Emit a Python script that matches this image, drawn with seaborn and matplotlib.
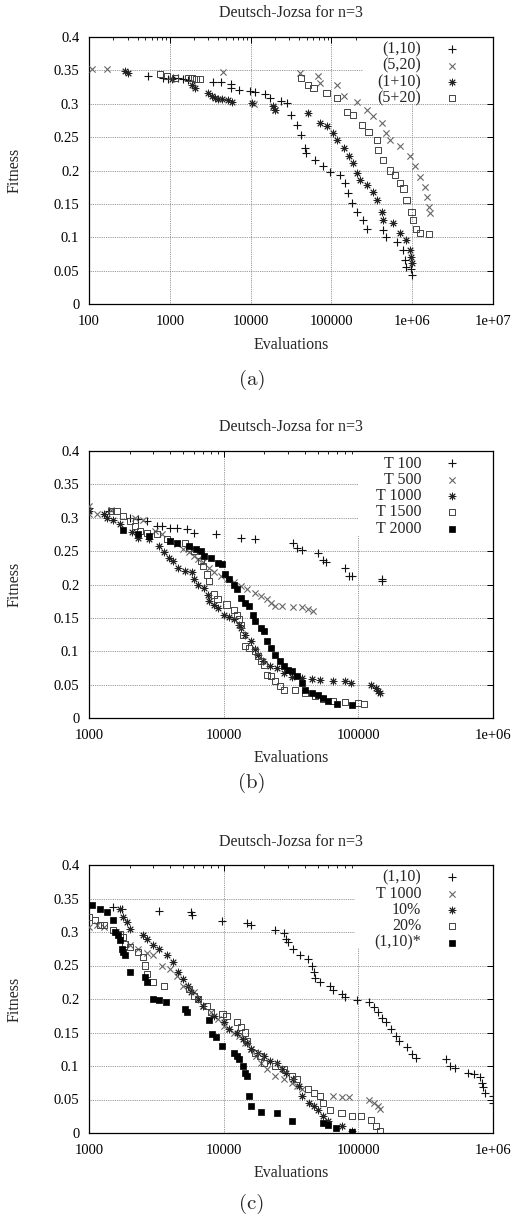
import matplotlib
matplotlib.use("Agg")
import matplotlib.pyplot as plt
import seaborn as sns
from matplotlib.patches import Rectangle
from matplotlib.ticker import FixedLocator, FixedFormatter, LogLocator, NullFormatter

# ---- panel (a): ES strategies ----
a_plus_x = [540, 830, 950, 1100, 1260, 1450, 1700, 3400, 4300, 5700, 5800, 7200, 9800, 11300, 15000,
            17400, 24000, 28000, 32000, 37000, 42600, 47000, 49000, 63000, 79000, 96000, 127000,
            147000, 162000, 178000, 205000, 246000, 273000, 437000, 480000, 640000, 780000, 815000,
            850000, 980000, 1000000]
a_plus_y = [0.342, 0.338, 0.337, 0.338, 0.338, 0.337, 0.336, 0.333, 0.333, 0.330, 0.323, 0.320, 0.319,
            0.318, 0.314, 0.309, 0.304, 0.301, 0.283, 0.268, 0.253, 0.233, 0.226, 0.216, 0.206, 0.198,
            0.193, 0.181, 0.166, 0.151, 0.138, 0.126, 0.113, 0.111, 0.101, 0.093, 0.081, 0.066, 0.056,
            0.053, 0.043]

a_cross_x = [108, 165, 4570, 11000, 19000, 20000, 41000, 69000, 72000, 117000, 142000, 205000, 273000,
             330000, 418000, 480000, 530000, 710000, 935000, 1070000, 1250000, 1450000, 1520000,
             1600000, 1660000]
a_cross_y = [0.352, 0.352, 0.348, 0.299, 0.295, 0.290, 0.346, 0.341, 0.331, 0.328, 0.311, 0.303, 0.291,
             0.281, 0.271, 0.256, 0.246, 0.236, 0.221, 0.206, 0.191, 0.176, 0.161, 0.146, 0.136]

a_star_x = [280, 300, 1050, 1860, 2050, 2950, 3300, 3600, 3950, 4450, 5200, 5900, 10500, 19000, 20000,
            52000, 72000, 87000, 106000, 117000, 142000, 163000, 185000, 205000, 225000, 273000,
            330000, 363000, 418000, 437000, 580000, 710000, 850000, 935000, 980000, 1000000]
a_star_y = [0.349, 0.346, 0.337, 0.328, 0.324, 0.316, 0.312, 0.309, 0.307, 0.307, 0.305, 0.302, 0.301,
            0.296, 0.291, 0.286, 0.271, 0.266, 0.256, 0.246, 0.233, 0.221, 0.211, 0.196, 0.186, 0.178,
            0.168, 0.156, 0.138, 0.126, 0.121, 0.106, 0.096, 0.081, 0.071, 0.061]

a_sq_x = [760, 930, 1150, 1700, 1900, 2100, 2350, 42600, 52000, 60000, 87000, 117000, 155000, 187000,
          237000, 288000, 363000, 380000, 437000, 530000, 615000, 710000, 780000, 850000, 980000,
          1020000, 1120000, 1250000, 1600000]
a_sq_y = [0.345, 0.341, 0.338, 0.338, 0.338, 0.337, 0.337, 0.338, 0.328, 0.323, 0.316, 0.308, 0.288,
          0.283, 0.268, 0.258, 0.246, 0.231, 0.216, 0.200, 0.193, 0.181, 0.173, 0.156, 0.138, 0.126,
          0.113, 0.106, 0.105]

# ---- panel (b): tournament sizes ----
b_t100_x = [1000, 1400, 2000, 2300, 2700, 3200, 3500, 4000, 4500, 5300, 6000, 8800, 13500, 17000,
            33000, 35000, 38000, 50000, 55000, 58000, 80000, 85000, 90000, 150000, 150000]
b_t100_y = [0.315, 0.310, 0.300, 0.298, 0.295, 0.288, 0.287, 0.285, 0.285, 0.283, 0.277, 0.275, 0.270,
            0.268, 0.262, 0.255, 0.252, 0.247, 0.237, 0.233, 0.225, 0.213, 0.212, 0.208, 0.205]

b_t500_x = [1000, 1000, 1150, 1450, 2200, 2500, 3100, 3500, 4000, 4500, 5000, 5500, 6000, 6500, 7000,
            7800, 8500, 9500, 10500, 12000, 13500, 15000, 17000, 19000, 21000, 22500, 24000, 27000,
            33000, 38000, 42000, 46000]
b_t500_y = [0.318, 0.305, 0.305, 0.312, 0.300, 0.297, 0.280, 0.275, 0.265, 0.260, 0.253, 0.248, 0.243,
            0.238, 0.233, 0.225, 0.218, 0.212, 0.208, 0.203, 0.198, 0.193, 0.188, 0.183, 0.178, 0.172,
            0.168, 0.168, 0.167, 0.166, 0.163, 0.160]

b_t1000_x = [1000, 1300, 1350, 1500, 1700, 2100, 2300, 2800, 3300, 3600, 3900, 4200, 4600, 5200, 5800,
             6000, 6500, 7200, 7600, 7800, 8500, 9000, 10000, 11000, 12000, 13000, 13500, 14500,
             16000, 17000, 18000, 19500, 22000, 25000, 28000, 32000, 38000, 45000, 52000, 65000,
             80000, 88000, 125000, 135000, 140000, 145000]
b_t1000_y = [0.310, 0.305, 0.300, 0.297, 0.290, 0.278, 0.270, 0.268, 0.258, 0.248, 0.240, 0.235, 0.225,
             0.220, 0.218, 0.208, 0.200, 0.195, 0.185, 0.175, 0.170, 0.165, 0.155, 0.152, 0.148, 0.140,
             0.135, 0.125, 0.115, 0.103, 0.095, 0.085, 0.078, 0.075, 0.068, 0.062, 0.060, 0.058, 0.057,
             0.055, 0.055, 0.052, 0.050, 0.045, 0.040, 0.037]

b_t1500_x = [1450, 1600, 1800, 2000, 2200, 2400, 2700, 3200, 3800, 5200, 5500, 6000, 6800, 7000, 7500,
             7800, 8500, 9000, 10500, 12000, 12500, 13000, 13500, 14000, 14500, 15500, 17000, 18000,
             19000, 20000, 21000, 22500, 24000, 26000, 28000, 34000, 40000, 48000, 55000, 65000,
             80000, 100000, 110000]
b_t1500_y = [0.310, 0.310, 0.302, 0.295, 0.288, 0.280, 0.277, 0.275, 0.268, 0.262, 0.255, 0.250, 0.235,
             0.228, 0.215, 0.205, 0.185, 0.178, 0.170, 0.162, 0.155, 0.148, 0.140, 0.125, 0.108, 0.105,
             0.100, 0.093, 0.085, 0.080, 0.065, 0.063, 0.055, 0.048, 0.042, 0.042, 0.038, 0.033, 0.028,
             0.025, 0.024, 0.023, 0.021]

b_t2000_x = [1800, 2300, 2800, 4000, 4500, 5500, 6200, 6800, 7200, 8000, 9000, 9800, 10200, 11000,
             12000, 12500, 13500, 14500, 15500, 16500, 17000, 19000, 20000, 21000, 22500, 24000, 26000,
             28000, 30000, 32000, 35000, 38000, 40000, 45000, 50000, 55000, 60000, 70000, 90000]
b_t2000_y = [0.282, 0.276, 0.272, 0.265, 0.262, 0.258, 0.253, 0.250, 0.243, 0.240, 0.232, 0.230, 0.215,
             0.208, 0.200, 0.193, 0.180, 0.172, 0.168, 0.155, 0.145, 0.135, 0.130, 0.115, 0.105, 0.095,
             0.085, 0.078, 0.072, 0.070, 0.063, 0.052, 0.042, 0.038, 0.035, 0.030, 0.025, 0.021, 0.019]

# ---- panel (c): comparison ----
c_es_x = [1500, 1750, 3300, 5700, 5800, 9800, 15000, 16000, 24000, 28000, 29000, 30000, 33000, 37000,
          42000, 45000, 47000, 48000, 52000, 62000, 65000, 75000, 80000, 98000, 120000, 130000, 140000,
          150000, 160000, 175000, 190000, 200000, 230000, 250000, 270000, 450000, 480000, 520000,
          650000, 720000, 800000, 830000, 850000, 870000, 1000000, 1000000]
c_es_y = [0.337, 0.335, 0.332, 0.330, 0.325, 0.317, 0.313, 0.310, 0.303, 0.298, 0.290, 0.285, 0.275,
          0.265, 0.260, 0.250, 0.240, 0.232, 0.225, 0.220, 0.213, 0.207, 0.203, 0.198, 0.195, 0.188,
          0.180, 0.172, 0.165, 0.155, 0.145, 0.138, 0.128, 0.118, 0.112, 0.110, 0.100, 0.097, 0.090,
          0.088, 0.083, 0.075, 0.068, 0.060, 0.055, 0.045]

c_t1000_x = [1000, 1150, 1300, 1600, 2000, 2300, 2700, 3000, 3500, 4000, 4500, 5000, 5500, 6000, 6500,
             7000, 8000, 9000, 10000, 11000, 12000, 13000, 14500, 16000, 17500, 19000, 21000, 24000,
             28000, 32000, 35000, 38000, 65000, 75000, 85000, 120000, 130000, 140000, 145000]
c_t1000_y = [0.307, 0.310, 0.307, 0.300, 0.280, 0.275, 0.268, 0.265, 0.250, 0.245, 0.235, 0.220, 0.215,
             0.210, 0.200, 0.190, 0.180, 0.170, 0.160, 0.155, 0.150, 0.145, 0.135, 0.125, 0.115, 0.105,
             0.095, 0.085, 0.080, 0.075, 0.070, 0.065, 0.055, 0.054, 0.053, 0.050, 0.045, 0.040, 0.036]

c_p10_x = [1700, 1800, 1900, 2000, 2500, 2700, 3000, 3300, 3800, 4200, 4600, 5000, 5400, 5700, 6500,
           7000, 8500, 10000, 11000, 12500, 14000, 15000, 16000, 18000, 20000, 22000, 25000, 27000,
           29000, 33000, 36000, 38000, 43000, 47000, 50000, 55000, 60000, 75000, 90000]
c_p10_y = [0.335, 0.322, 0.315, 0.305, 0.295, 0.290, 0.280, 0.275, 0.265, 0.255, 0.240, 0.230, 0.220,
           0.210, 0.200, 0.190, 0.175, 0.165, 0.155, 0.150, 0.140, 0.135, 0.125, 0.120, 0.115, 0.108,
           0.105, 0.095, 0.090, 0.080, 0.070, 0.055, 0.045, 0.040, 0.035, 0.025, 0.018, 0.010, 0.003]

c_p20_x = [1000, 1100, 1200, 1300, 1500, 1700, 1800, 1850, 2000, 2300, 2500, 2600, 2700, 3000, 3600,
           5500, 6000, 6500, 7500, 8000, 9800, 10500, 12500, 13500, 14500, 15000, 17000, 18500, 20000,
           24000, 28000, 32000, 35000, 42000, 47000, 52000, 55000, 62000, 75000, 90000, 105000,
           125000, 135000, 145000]
c_p20_y = [0.322, 0.318, 0.310, 0.310, 0.303, 0.297, 0.292, 0.282, 0.278, 0.270, 0.262, 0.250, 0.238,
           0.225, 0.220, 0.215, 0.205, 0.200, 0.190, 0.180, 0.178, 0.175, 0.165, 0.158, 0.150, 0.137,
           0.120, 0.115, 0.105, 0.100, 0.095, 0.085, 0.080, 0.065, 0.060, 0.055, 0.045, 0.035, 0.030,
           0.025, 0.025, 0.020, 0.010, 0.003]

c_star_x = [1050, 1200, 1350, 1500, 1550, 1650, 1700, 1750, 1800, 1850, 2000, 2600, 2700, 3000, 3300,
            3700, 5200, 5300, 7800, 8200, 8800, 9800, 12000, 12500, 13000, 14000, 14500, 15000, 15500,
            16000, 19000, 25000, 32000, 55000, 60000, 68000, 90000]
c_star_y = [0.340, 0.335, 0.330, 0.318, 0.300, 0.295, 0.288, 0.275, 0.270, 0.265, 0.240, 0.233, 0.225,
            0.200, 0.198, 0.195, 0.185, 0.180, 0.168, 0.148, 0.143, 0.130, 0.120, 0.115, 0.110, 0.100,
            0.090, 0.085, 0.055, 0.040, 0.032, 0.030, 0.018, 0.015, 0.012, 0.008, 0.002]

y_ticks = [0, 0.05, 0.1, 0.15, 0.2, 0.25, 0.3, 0.35, 0.4]
y_labels = ['0', '0.05', '0.1', '0.15', '0.2', '0.25', '0.3', '0.35', '0.4']
xa_ticks = [100, 1000, 10000, 100000, 1000000, 10000000]
xa_labels = ['100', '1000', '10000', '100000', '1e+06', '1e+07']
xb_ticks = [1000, 10000, 100000, 1000000]
xb_labels = ['1000', '10000', '100000', '1e+06']

title = 'Deutsch-Jozsa for n=3'

# marker styles (gnuplot-like point types)
ASTER = (8, 2, 0)
styles = {
    'plus': dict(marker='+', s=32, color='#111111', linewidth=0.8),
    'cross': dict(marker='x', s=20, color='#666666', linewidth=0.8),
    'star': dict(marker=ASTER, s=24, color='#222222', linewidth=0.7),
    'box': dict(marker='s', s=19, facecolor='none', edgecolor='#444444', color='#444444', linewidth=0.7),
    'fbox': dict(marker='s', s=24, color='black', edgecolor='black', linewidth=0.5),
}

# pixel layout: axes top/bottom, key box (left, bottom), first key row centre
panels = [
    dict(top=37, bottom=304, title_y=13, xlab_y=345, letter_y=380, letter='(a)',
         key_left=363, key_bottom=104, key_row=49,
         xlim=(100, 1e7), xt=xa_ticks, xl=xa_labels,
         series=[(a_plus_x, a_plus_y, '(1,10)', 'plus'),
                 (a_cross_x, a_cross_y, '(5,20)', 'cross'),
                 (a_star_x, a_star_y, '(1+10)', 'star'),
                 (a_sq_x, a_sq_y, '(5+20)', 'box')]),
    dict(top=451, bottom=718, title_y=427, xlab_y=758, letter_y=783, letter='(b)',
         key_left=358, key_bottom=536, key_row=463,
         xlim=(1000, 1e6), xt=xb_ticks, xl=xb_labels,
         series=[(b_t100_x, b_t100_y, 'T 100', 'plus'),
                 (b_t500_x, b_t500_y, 'T 500', 'cross'),
                 (b_t1000_x, b_t1000_y, 'T 1000', 'star'),
                 (b_t1500_x, b_t1500_y, 'T 1500', 'box'),
                 (b_t2000_x, b_t2000_y, 'T 2000', 'fbox')]),
    dict(top=865, bottom=1133, title_y=842, xlab_y=1173, letter_y=1204, letter='(c)',
         key_left=355, key_bottom=948, key_row=877,
         xlim=(1000, 1e6), xt=xb_ticks, xl=xb_labels,
         series=[(c_es_x, c_es_y, '(1,10)', 'plus'),
                 (c_t1000_x, c_t1000_y, 'T 1000', 'cross'),
                 (c_p10_x, c_p10_y, '10%', 'star'),
                 (c_p20_x, c_p20_y, '20%', 'box'),
                 (c_star_x, c_star_y, '(1,10)*', 'fbox')]),
]

W, H = 515, 1217
FS = 10.5      # tick labels
FS_TXT = 11.5  # title, axis labels, key
sns.set_style("white")
plt.rcParams['font.family'] = ['Liberation Serif', 'DejaVu Serif']
plt.rcParams['font.size'] = FS

fig = plt.figure(figsize=(W / 100, H / 100), dpi=100)
left, right = 89, 493
key_px = FS_TXT * 100 / 72

for p in panels:
    ax_h = p['bottom'] - p['top']
    ax_w = right - left
    ax = fig.add_axes([left / W, 1 - p['bottom'] / H, ax_w / W, ax_h / H])
    for xs, ys, lab, st in p['series']:
        sns.scatterplot(x=xs, y=ys, ax=ax, label=lab, zorder=3, **styles[st])

    ax.set_xscale('log')
    ax.set_xlim(*p['xlim'])
    ax.set_ylim(0, 0.4)
    ax.xaxis.set_major_locator(FixedLocator(p['xt']))
    ax.xaxis.set_major_formatter(FixedFormatter(p['xl']))
    ax.xaxis.set_minor_locator(LogLocator(base=10, subs=range(2, 10)))
    ax.xaxis.set_minor_formatter(NullFormatter())
    ax.yaxis.set_major_locator(FixedLocator(y_ticks))
    ax.yaxis.set_major_formatter(FixedFormatter(y_labels))
    ax.tick_params(which='both', direction='in', top=True, right=True, colors='black', labelsize=FS)
    ax.tick_params(which='major', length=4, width=0.7)
    ax.tick_params(which='minor', length=2, width=0.6)
    ax.tick_params(axis='x', pad=8)
    ax.tick_params(axis='y', pad=7)
    ax.grid(True, which='major', color='#777777', linestyle=(0, (1, 1.2)), linewidth=0.6)
    for sp in ax.spines.values():
        sp.set_color('black')
        sp.set_linewidth(0.9)

    # white key background hiding the grid, as gnuplot does
    kx = (p['key_left'] - left) / ax_w
    ky = (p['bottom'] - p['key_bottom']) / ax_h
    ax.add_patch(Rectangle((kx, ky), 1 - kx, 1 - ky, transform=ax.transAxes,
                           facecolor='white', edgecolor='none', zorder=1))

    # key: text right-aligned, symbol centred at x=452 px
    handlelen = 2.0
    anchor_x = (452 + handlelen * key_px / 2 - left) / ax_w
    anchor_y = (p['bottom'] - (p['key_row'] - 7.5)) / ax_h
    ax.legend(loc='upper right', bbox_to_anchor=(anchor_x, anchor_y), markerfirst=False,
              frameon=False, fontsize=FS_TXT, handlelength=handlelen, handletextpad=0.94,
              borderaxespad=0, borderpad=0, labelspacing=0.02, scatterpoints=1)

    cx = (left + right) / 2 / W
    fig.text(cx, 1 - p['title_y'] / H, title, ha='center', va='center', fontsize=FS_TXT)
    fig.text(cx, 1 - p['xlab_y'] / H, 'Evaluations', ha='center', va='center', fontsize=FS_TXT)
    fig.text(15 / W, 1 - (p['top'] + p['bottom']) / 2 / H, 'Fitness', ha='center', va='center',
             rotation=90, fontsize=FS_TXT)
    fig.text(252 / W, 1 - p['letter_y'] / H, p['letter'], ha='center', va='center', fontsize=15,
             family=['cmr10', 'DejaVu Serif'])

fig.savefig('out.png', dpi=100)
